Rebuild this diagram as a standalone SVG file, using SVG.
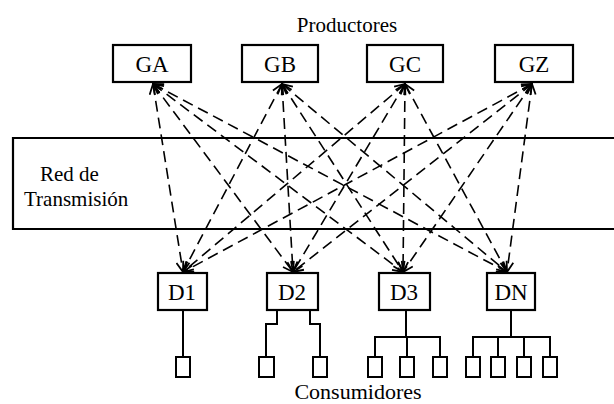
<svg xmlns="http://www.w3.org/2000/svg" width="614" height="404" viewBox="0 0 614 404">
<style>
text{font-family:"Liberation Serif","Times New Roman",serif;fill:#000;}
.lbl{font-size:23px;text-anchor:middle;}
.box{fill:#fff;stroke:#000;stroke-width:2.2;}
.cons{fill:#fff;stroke:#000;stroke-width:2;}
.wire{fill:none;stroke:#000;stroke-width:2;}
.band{fill:none;stroke:#000;stroke-width:2.2;}
.link{fill:none;stroke:#000;stroke-width:1.6;stroke-dasharray:11 6;marker-start:url(#ah);marker-end:url(#ah);}
</style>
<defs>
<marker id="ah" viewBox="0 0 12 12" refX="11" refY="6" markerWidth="12" markerHeight="12" markerUnits="userSpaceOnUse" orient="auto-start-reverse">
<path d="M1,1 L11,6 L1,11" fill="none" stroke="#000" stroke-width="1.8"/>
</marker>
</defs>
<text class="lbl" x="347" y="32" style="font-size:21px">Productores</text>
<g id="band">
<path class="band" d="M614,138 H13 V229 H614"/>
<text x="40" y="181" font-size="21">Red de</text>
<text x="24" y="206" font-size="21">Transmisión</text>
</g>
<g id="connectors">
<line class="link" x1="153" y1="84" x2="183" y2="272"/>
<line class="link" x1="153" y1="84" x2="293" y2="272"/>
<line class="link" x1="153" y1="84" x2="403" y2="272"/>
<line class="link" x1="153" y1="84" x2="507" y2="272"/>
<line class="link" x1="282" y1="84" x2="183" y2="272"/>
<line class="link" x1="282" y1="84" x2="293" y2="272"/>
<line class="link" x1="282" y1="84" x2="403" y2="272"/>
<line class="link" x1="282" y1="84" x2="507" y2="272"/>
<line class="link" x1="405" y1="84" x2="183" y2="272"/>
<line class="link" x1="405" y1="84" x2="293" y2="272"/>
<line class="link" x1="405" y1="84" x2="403" y2="272"/>
<line class="link" x1="405" y1="84" x2="507" y2="272"/>
<line class="link" x1="532" y1="84" x2="183" y2="272"/>
<line class="link" x1="532" y1="84" x2="293" y2="272"/>
<line class="link" x1="532" y1="84" x2="403" y2="272"/>
<line class="link" x1="532" y1="84" x2="507" y2="272"/>
<path class="wire" d="M183,310 V357"/>
<path class="wire" d="M277,310 V324 H266 V357 M310,310 V324 H320 V357"/>
<path class="wire" d="M406,310 V337 M375,357 V337 H440 V357 M407,337 V357"/>
<path class="wire" d="M511,310 V337 M473,357 V337 H550 V357 M498,337 V357 M524,337 V357"/>
</g>
<g id="GA"><rect class="box" x="113" y="45" width="78" height="37"/><text class="lbl" x="152" y="72">GA</text></g>
<g id="GB"><rect class="box" x="242" y="45" width="76" height="37"/><text class="lbl" x="280" y="72">GB</text></g>
<g id="GC"><rect class="box" x="367" y="45" width="76" height="37"/><text class="lbl" x="405" y="72">GC</text></g>
<g id="GZ"><rect class="box" x="495" y="45" width="78" height="37"/><text class="lbl" x="534" y="72">GZ</text></g>
<g id="D1"><rect class="box" x="158" y="273" width="49" height="37"/><text class="lbl" x="182" y="300">D1</text></g>
<g id="D2"><rect class="box" x="267" y="273" width="51" height="37"/><text class="lbl" x="292" y="300">D2</text></g>
<g id="D3"><rect class="box" x="379" y="273" width="51" height="37"/><text class="lbl" x="404" y="300">D3</text></g>
<g id="DN"><rect class="box" x="487" y="273" width="48" height="37"/><text class="lbl" x="511" y="300">DN</text></g>
<g id="consumers">
<rect class="cons" x="176" y="357" width="14" height="20"/>
<rect class="cons" x="259" y="357" width="15" height="20"/>
<rect class="cons" x="313" y="357" width="14" height="20"/>
<rect class="cons" x="368" y="357" width="14" height="20"/>
<rect class="cons" x="400" y="357" width="14" height="20"/>
<rect class="cons" x="433" y="357" width="14" height="20"/>
<rect class="cons" x="466" y="357" width="14" height="20"/>
<rect class="cons" x="491" y="357" width="14" height="20"/>
<rect class="cons" x="517" y="357" width="14" height="20"/>
<rect class="cons" x="543" y="357" width="14" height="20"/>
</g>
<text class="lbl" x="358" y="399" style="font-size:22px">Consumidores</text>
</svg>
